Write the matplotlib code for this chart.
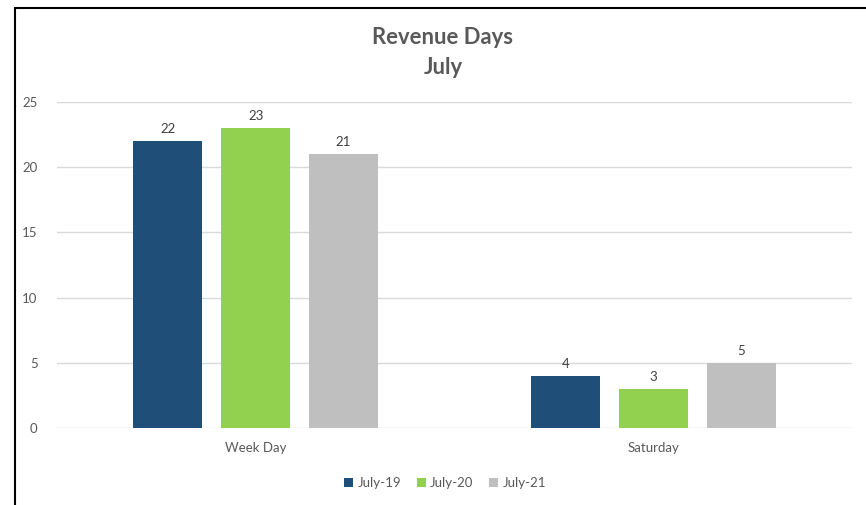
import matplotlib.pyplot as plt
import numpy as np
from matplotlib.patches import Rectangle

# chart values
categories = ["Week Day", "Saturday"]
series = ["July-19", "July-20", "July-21"]
july19 = [22, 4]
july20 = [23, 3]
july21 = [21, 5]
colors = ["#1F4E79", "#92D050", "#BFBFBF"]

plt.rcParams['font.family'] = ['Lato', 'DejaVu Sans']
txtColor = "#595959"

fig = plt.figure(figsize=(8.66, 5.05), dpi=100)
ax = fig.add_axes([57/866, 1 - 428/505, 795/866, 326/505])

x = np.arange(len(categories))
width = 0.174
offset = 0.221
for i, vals in enumerate([july19, july20, july21]):
	pos = x + (i - 1)*offset
	bars = ax.bar(pos, vals, width, color=colors[i], label=series[i], zorder=3)
	for b, v in zip(bars, vals):
		ax.text(b.get_x() + b.get_width()/2, v + 0.45, str(v), ha="center", va="bottom",
			fontsize=9.5, color="#404040")

ax.set_xlim(-0.5, 1.5)
ax.set_ylim(0, 25)
ax.set_yticks(range(0, 26, 5))
ax.set_xticks(x)
ax.set_xticklabels(categories)
ax.grid(axis="y", color="#D9D9D9", linewidth=1, zorder=0)
for s in ax.spines.values():
	s.set_visible(False)
ax.tick_params(axis="both", length=0, labelsize=9.5, colors=txtColor)
ax.tick_params(axis="y", pad=14)
ax.tick_params(axis="x", pad=10)

fig.text(443/866, 1 - 38/505, "Revenue Days", ha="center", va="center", fontsize=15.8,
	fontweight="bold", color=txtColor)
fig.text(443/866, 1 - 68/505, "July", ha="center", va="center", fontsize=15.8,
	fontweight="bold", color=txtColor)

ax.legend(loc="center", bbox_to_anchor=(445/866, 1 - 483/505), bbox_transform=fig.transFigure,
	ncol=3, frameon=False, fontsize=9.5, handlelength=0.7, handleheight=0.7,
	handletextpad=0.3, columnspacing=1.2, labelcolor=txtColor)

# chart frame, cut at right and bottom like the screenshot
fig.patches.append(Rectangle((15/866, -0.1), 1.1, 1 - 8/505 + 0.1, transform=fig.transFigure,
	fill=False, edgecolor="black", linewidth=1.5))

fig.savefig("out.png", dpi=100)
